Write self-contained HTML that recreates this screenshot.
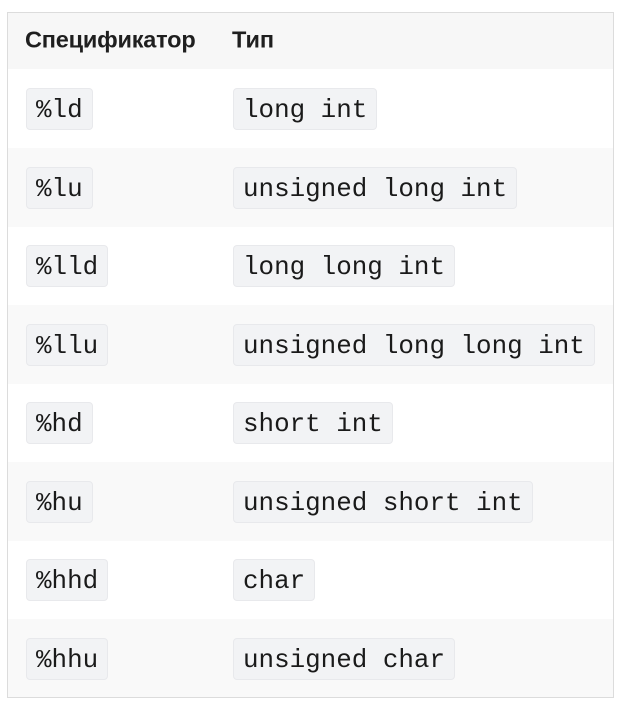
<!DOCTYPE html>
<html><head><meta charset="utf-8"><style>
body{margin:0;width:622px;height:706px;background:#fff;position:relative;overflow:hidden}
.t{position:absolute;left:7px;top:12px;width:605px;height:684px;border:1px solid #dcdcdc}
.r{position:absolute;left:0;width:605px}
.h{position:absolute;top:27px;font:bold 23.5px "Liberation Sans",sans-serif;color:#1f1f1f;transform:translateY(-50%)}
.c{position:absolute;height:42px;background:#f2f3f5;border:1px solid #e8e9ec;border-radius:4px;padding:0 9px;font:25.9px "Liberation Mono",monospace;line-height:43px;color:#1a1a1a;box-sizing:border-box;white-space:pre}
</style></head><body>
<div class="t">
<div class="r" style="top:0;height:56px;background:#f7f7f7"></div>
<div class="h" style="left:17px;letter-spacing:-0.2px">Спецификатор</div>
<div class="h" style="left:224px">Тип</div>
<div class="r" style="top:135px;height:79px;background:#f9f9f9"></div>
<div class="r" style="top:292px;height:79px;background:#f9f9f9"></div>
<div class="r" style="top:449px;height:79px;background:#f9f9f9"></div>
<div class="r" style="top:606px;height:78px;background:#f9f9f9"></div>
</div>
<div class="c" style="left:26px;top:88px">%ld</div><div class="c" style="left:233px;top:88px">long int</div>
<div class="c" style="left:26px;top:167px">%lu</div><div class="c" style="left:233px;top:167px">unsigned long int</div>
<div class="c" style="left:26px;top:245px">%lld</div><div class="c" style="left:233px;top:245px">long long int</div>
<div class="c" style="left:26px;top:324px">%llu</div><div class="c" style="left:233px;top:324px">unsigned long long int</div>
<div class="c" style="left:26px;top:402px">%hd</div><div class="c" style="left:233px;top:402px">short int</div>
<div class="c" style="left:26px;top:481px">%hu</div><div class="c" style="left:233px;top:481px">unsigned short int</div>
<div class="c" style="left:26px;top:559px">%hhd</div><div class="c" style="left:233px;top:559px">char</div>
<div class="c" style="left:26px;top:638px">%hhu</div><div class="c" style="left:233px;top:638px">unsigned char</div>
</body></html>
